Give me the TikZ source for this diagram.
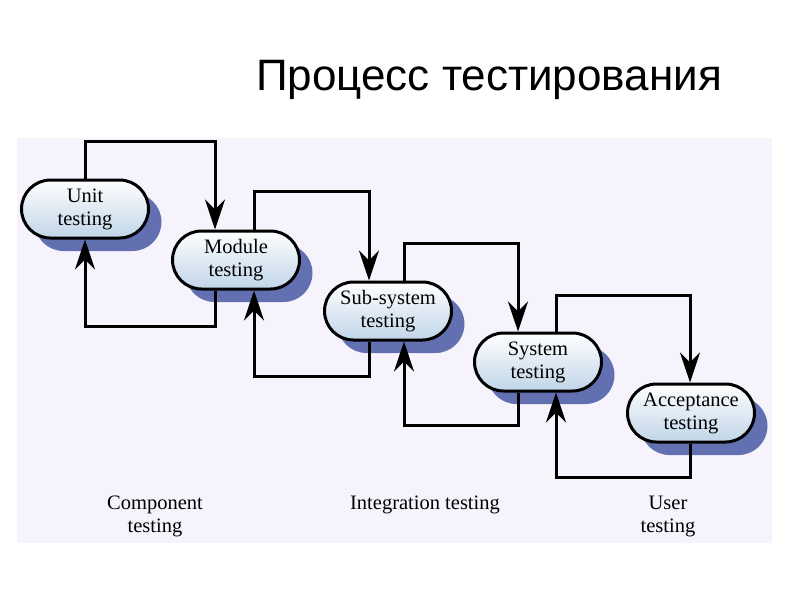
\documentclass[tikz,border=0pt]{standalone}
\usepackage{fontspec}
\setmainfont{Liberation Serif}
\newfontfamily\titlefont{Liberation Sans}
\usetikzlibrary{shapes.misc,shadows,arrows.meta,calc}
\definecolor{panel}{RGB}{246,243,252}
\definecolor{shadowblue}{RGB}{98,112,178}
\definecolor{nodeblue}{RGB}{192,213,232}
\begin{document}
\begin{tikzpicture}[x=1pt,y=-1pt,
  stage/.style={rounded rectangle, draw=black, line width=3pt,
    minimum width=127pt, minimum height=58pt, inner sep=0pt, align=center,
    font=\fontsize{20.5}{23}\selectfont,
    top color=white, bottom color=nodeblue,
    drop shadow={shadow xshift=13pt, shadow yshift=-13pt, fill=shadowblue, opacity=1}},
  conn/.style={line width=3pt, -{Stealth[length=30pt,width=20pt,inset=10pt]}},
  lbl/.style={font=\fontsize{20.5}{23}\selectfont, align=center}]
\useasboundingbox (0,0) rectangle (794,595);
\fill[white] (0,0) rectangle (794,595);
\fill[panel] (17,138) rectangle (772,543);
\node[anchor=base, font=\titlefont\fontsize{44}{50}\selectfont] (title) at (489,90) {Процесс тестирования};

\node[stage] (unit) at (85,209) {Unit\\testing};
\node[stage] (mod) at (236,260) {Module\\testing};
\node[stage] (sub) at (388,311) {Sub-system\\testing};
\node[stage] (sys) at (538,362) {System\\testing};
\node[stage] (acc) at (691,413) {Acceptance\\testing};

\coordinate (t1) at (215,141);
\coordinate (b1) at (215,326);
\coordinate (t2a) at (254,191);
\coordinate (t2) at (369,191);
\coordinate (b2) at (369,376);
\coordinate (b2a) at (254,376);
\coordinate (t3a) at (404,243);
\coordinate (t3) at (518,243);
\coordinate (b3) at (518,425);
\coordinate (b3a) at (404,425);
\coordinate (t4a) at (556,295);
\coordinate (t4) at (690,295);
\coordinate (b4) at (690,477);
\coordinate (b4a) at (556,477);

\draw[conn] (unit.north) |- (t1) -- (mod.north -| t1);
\draw[conn] (mod.south -| b1) -- (b1) -| (unit.south);
\draw[conn] (mod.north -| t2a) -- (t2a) -- (t2) -- (sub.north -| t2);
\draw[conn] (sub.south -| b2) -- (b2) -- (b2a) -- (mod.south -| b2a);
\draw[conn] (sub.north -| t3a) -- (t3a) -- (t3) -- (sys.north -| t3);
\draw[conn] (sys.south -| b3) -- (b3) -- (b3a) -- (sub.south -| b3a);
\draw[conn] (sys.north -| t4a) -- (t4a) -- (t4) -- (acc.north -| t4);
\draw[conn] (acc.south -| b4) -- (b4) -- (b4a) -- (sys.south -| b4a);

\node[lbl] (l1) at (155,516) {Component\\testing};
\node[lbl] (l2) at (425,505) {Integration testing};
\node[lbl] (l3) at (668,516) {User\\testing};
\end{tikzpicture}
\end{document}
